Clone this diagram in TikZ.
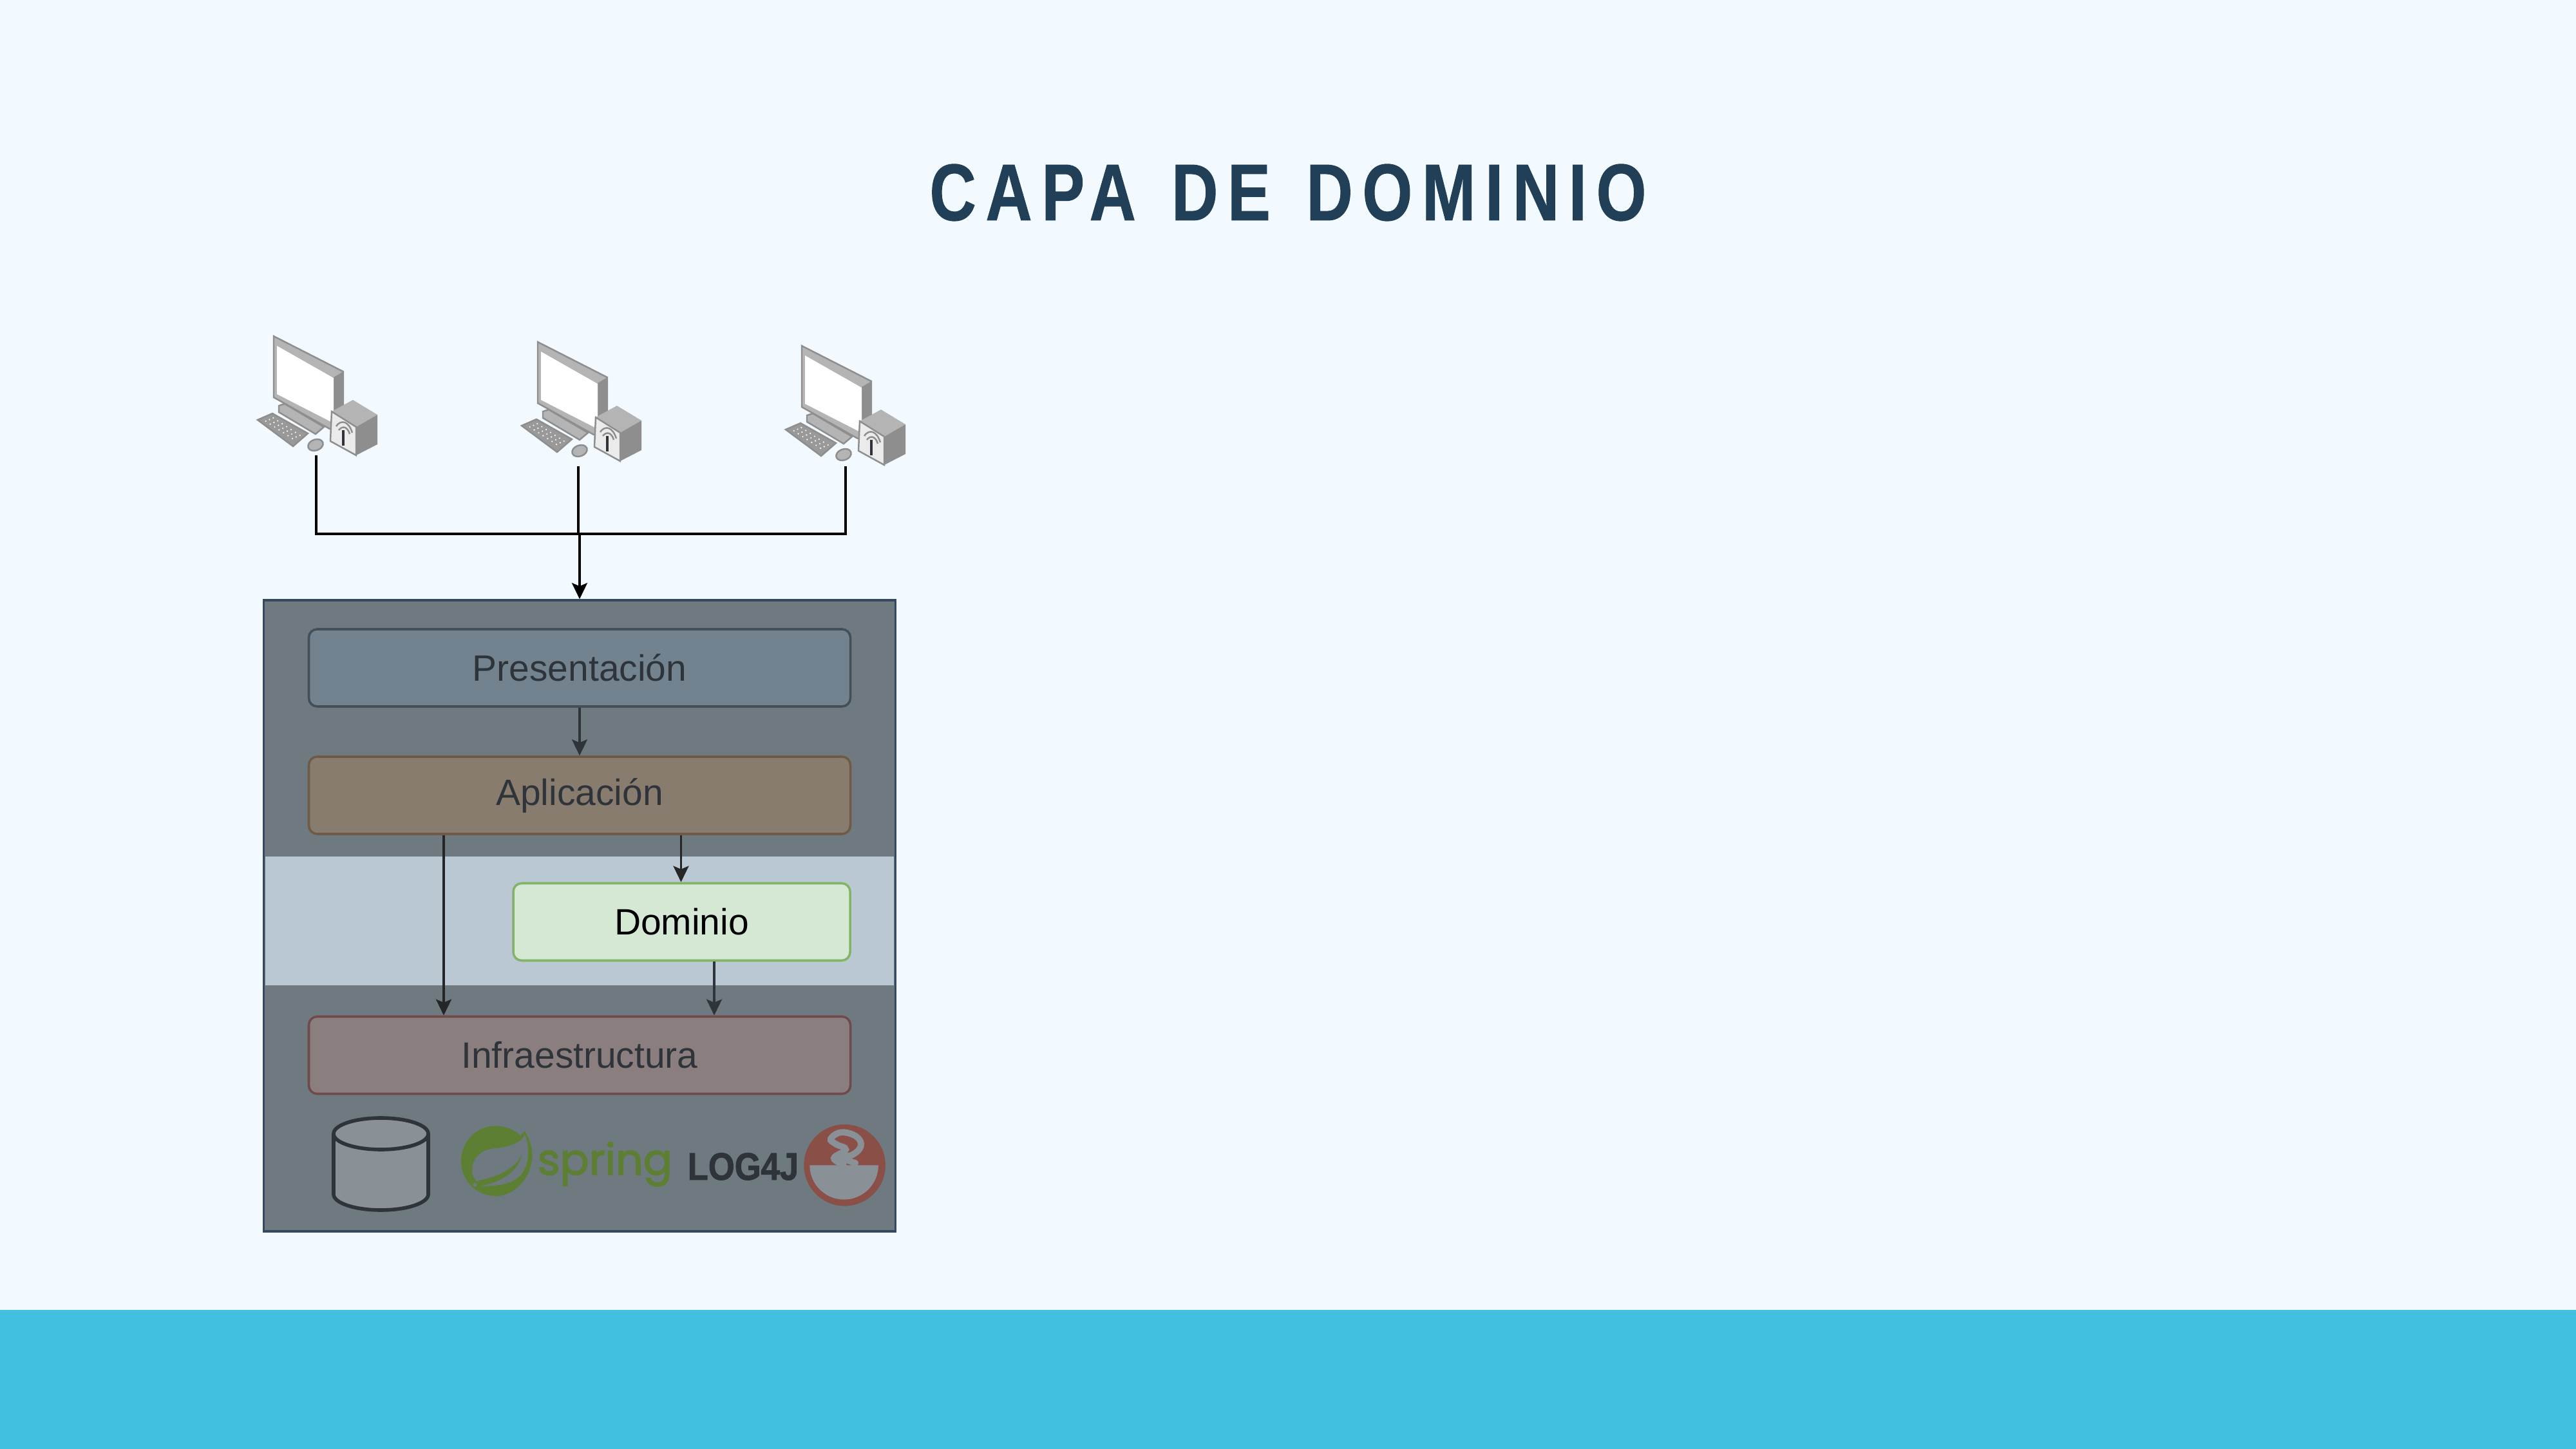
\documentclass[tikz,border=0pt]{standalone}
\usepackage{fontspec}
\setmainfont{Liberation Sans}
\newfontfamily\titlefont[FakeStretch=0.8,LetterSpace=12,WordSpace=1.3,FakeBold=0.8]{Liberation Sans}
\newfontfamily\logfont[FakeStretch=0.88,FakeBold=1.5]{Liberation Sans}
\newfontfamily\springfont[FakeBold=2.5]{Poppins}
\usetikzlibrary{
    arrows.meta,
    positioning,
    calc
}
\definecolor{pagebg}{HTML}{F2FAFF}
\definecolor{band}{HTML}{41C1DF}
\definecolor{titleblue}{HTML}{223F58}
\definecolor{dimfill}{HTML}{6F7A80}
\definecolor{dimline}{HTML}{34495E}
\definecolor{lightband}{HTML}{B9C8D2}
\definecolor{dark}{HTML}{2E3439}
\definecolor{pcgrey}{HTML}{B4B4B4}
\definecolor{pcdark}{HTML}{8E8E8E}
\definecolor{springgreen}{HTML}{5D7F33}
\definecolor{logred}{HTML}{8A4F47}
\definecolor{iconfill}{HTML}{8A9196}
\definecolor{presfill}{HTML}{72828F}
\definecolor{presline}{HTML}{444E58}
\definecolor{aplifill}{HTML}{887C6E}
\definecolor{apliline}{HTML}{6F5A45}
\definecolor{domifill}{HTML}{D5E8D4}
\definecolor{domiline}{HTML}{82B366}
\definecolor{infrafill}{HTML}{8A7E7E}
\definecolor{infraline}{HTML}{6F4A4A}
\tikzset{
    % Layer box style
    layer/.style 2 args={
        rectangle,
        rounded corners=1.3mm,
        minimum height=1.2cm,
        align=center,
        font=\fontsize{16.2}{18}\selectfont,
        text=dark,
        draw=#2,
        fill=#1,
        line width=1pt
    },
    % Arrow styles
    flow/.style={
        -{Stealth[length=2.5mm, width=2.4mm, inset=0.5mm]},
        line width=1pt,
        color=#1
    },
    bus/.style={
        line width=1pt,
        color=black
    },
    % Computer icon
    pcicon/.pic={
        \fill[pcgrey, draw=pcdark, line width=0.7pt] (4.25,-5.22) -- (5.33,-5.77) -- (5.33,-6.67) -- (5.12,-6.66) -- (4.25,-6.17) -- cycle;
        \fill[pcdark] (5.18,-5.86) -- (5.33,-5.77) -- (5.33,-6.35) -- (5.18,-6.5) -- cycle;
        \fill[white] (4.30,-5.37) -- (5.18,-5.87) -- (5.18,-6.57) -- (4.30,-6.12) -- cycle;
        \fill[pcgrey, draw=pcdark, line width=0.7pt] (4.33,-6.30) -- (4.33,-6.40) -- (4.90,-6.74) -- (5.03,-6.63) -- (4.42,-6.27) -- cycle;
        \fill[pcgrey!85!black, draw=pcdark, line width=0.7pt] (4.0,-6.52) -- (4.23,-6.42) -- (4.78,-6.73) -- (4.55,-6.93) -- cycle;
        \foreach \i in {1,...,7} \foreach \j in {1,2,3}
            \fill[white] ({4.0+\i*0.069+\j*0.058},{-6.52-\i*0.045+\j*0.025}) circle (0.012);
        \fill[pcgrey, draw=pcdark, line width=0.7pt, rotate around={20:(4.90,-6.91)}] (4.90,-6.91) ellipse (0.12 and 0.085);
        \fill[pcgrey] (5.15,-6.39) -- (5.48,-6.21) -- (5.86,-6.44) -- (5.53,-6.63) -- cycle;
        \fill[white!92!black, draw=pcdark, line width=0.7pt] (5.15,-6.39) -- (5.53,-6.63) -- (5.53,-7.07) -- (5.13,-6.85) -- cycle;
        \fill[pcdark] (5.53,-6.63) -- (5.86,-6.44) -- (5.86,-6.90) -- (5.53,-7.07) -- cycle;
        \draw[dark, line width=0.9pt] (5.33,-6.68) -- (5.33,-6.92);
        \draw[pcdark, line width=0.7pt] (5.22,-6.62) .. controls (5.30,-6.50) and (5.42,-6.55) .. (5.47,-6.72);
        \draw[pcdark, line width=0.7pt] (5.26,-6.68) .. controls (5.32,-6.60) and (5.40,-6.63) .. (5.43,-6.74);
    }
}

\begin{document}
\begin{tikzpicture}
        \useasboundingbox (0,0) rectangle (40,-22.5);
        \fill[pagebg] (0,0) rectangle (40,-22.5);
        \fill[band] (0,-20.34) rectangle (40,-22.5);

        % Title
        \node[font=\titlefont\bfseries\fontsize{35.5}{40}\selectfont, text=titleblue] (title) at (20.0,-2.99) {CAPA DE DOMINIO};

        % Computers
        \pic (pcA) at (0,0) {pcicon};
        \pic (pcB) at (4.10,-0.09) {pcicon};
        \pic (pcC) at (8.20,-0.15) {pcicon};
        \coordinate (footA) at (4.91,-7.07);
        \coordinate (footB) at (8.98,-7.24);
        \coordinate (footC) at (13.13,-7.24);
        \coordinate (busmid) at (9.0,-8.29);

        % Container
        \node[rectangle, draw=dimline, fill=dimfill, line width=1pt, minimum width=9.81cm, minimum height=9.8cm] (outer) at (9.0,-14.22) {};
        \node[rectangle, fill=lightband, inner sep=0pt, minimum width=9.76cm, minimum height=2cm] (middle) at (9.0,-14.3) {};

        % Layers
        \node[layer={presfill}{presline}, minimum width=8.41cm] (pres) at (9.0,-10.37) {Presentación};
        \node[layer={aplifill}{apliline}, minimum width=8.41cm] (apli) at (9.0,-12.35) {Aplicación};
        \node[layer={domifill}{domiline}, minimum width=5.23cm, text=black] (domi) at (10.585,-14.315) {Dominio};
        \node[layer={infrafill}{infraline}, minimum width=8.41cm] (infra) at (9.0,-16.385) {Infraestructura};

        % Connections
        \coordinate (colA) at (6.89,0);
        \coordinate (colB) at (10.575,0);
        \coordinate (colC) at (11.09,0);
        \draw[bus] (footA) |- (footC |- busmid) -- (footC);
        \draw[bus] (footB) -- (footB |- busmid);
        \draw[flow=black] (busmid) -- (outer.north);
        \draw[flow=dark] (pres) -- (apli);
        \draw[flow=black!85] (apli.south -| colB) -- (domi.north -| colB);
        \draw[flow=black!85] (apli.south -| colA) -- (infra.north -| colA);
        \draw[flow=dark] (domi.south -| colC) -- (infra.north -| colC);

        % Database
        \draw[dark, fill=iconfill, line width=1.6pt] (5.18,-17.605) -- (5.18,-18.545) arc[start angle=180, end angle=360, x radius=0.735, y radius=0.245] -- (6.65,-17.605);
        \draw[dark, fill=iconfill, line width=1.6pt] (5.915,-17.605) ellipse (0.735 and 0.245);

        % Spring logo
        \begin{scope}[shift={(7,-17.3)}, x=0.03333mm, y=-0.03333mm]
            \fill[springgreen] (345,78) .. controls (375,130) and (385,180) .. (378,215) .. controls (365,310) and (290,382) .. (210,382) .. controls (120,382) and (48,310) .. (48,218) .. controls (48,130) and (120,55) .. (205,55) .. controls (255,55) and (300,75) .. (325,100) -- cycle;
            \fill[dimfill] (345,96) .. controls (320,145) and (250,155) .. (200,160) .. controls (130,170) and (100,210) .. (100,260) .. controls (100,285) and (108,300) .. (118,312) -- (135,335) .. controls (190,335) and (270,335) .. (320,290) .. controls (360,250) and (375,170) .. cycle;
            \fill[springgreen] (118,312) .. controls (200,295) and (300,265) .. (332,185) .. controls (315,270) and (230,320) .. (130,336) -- cycle;
            \fill[dimfill] (113,330) circle (9);
        \end{scope}
        \node[font=\springfont\fontsize{19}{24}\selectfont, text=springgreen, inner sep=0pt, anchor=base west] (springtext) at (8.34,-18.24) {spring};

        % Log4j logo
        \node[font=\logfont\bfseries\fontsize{17}{20}\selectfont, text=dark, inner sep=0pt, anchor=base west] (logtext) at (10.67,-18.32) {LOG4J};
        \begin{scope}[shift={(10.5,-17.3)}, x=0.03333mm, y=-0.03333mm]
            \fill[logred] (785,238) circle (190);
            \fill[iconfill] (622,238) -- (942,238) arc[start angle=0, end angle=180, radius=160] -- cycle;
            \draw[iconfill, line width=2.8pt, line cap=round] plot[smooth, tension=0.7] coordinates {(780,235) (735,205) (790,165) (745,140) (720,115) (770,85) (840,105) (860,150) (820,190) (765,200) (835,228)};
        \end{scope}
\end{tikzpicture}
\end{document}
